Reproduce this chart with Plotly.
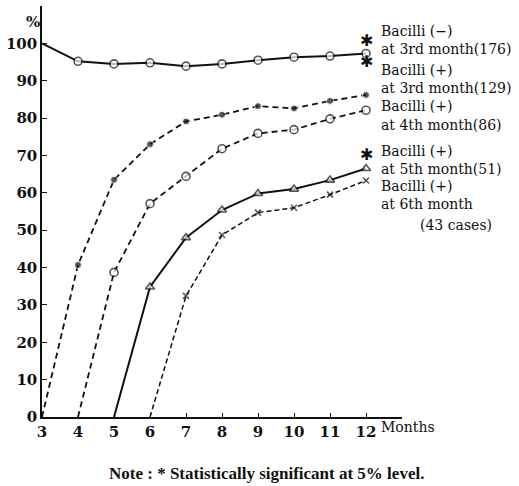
import plotly.graph_objects as go

# Months after start of treatment
months = [3, 4, 5, 6, 7, 8, 9, 10, 11, 12]

# Percentage of cases (cumulative) per group
neg_3rd = [100, 95.2, 94.5, 94.8, 93.9, 94.5, 95.5, 96.3, 96.6, 97.3]
pos_3rd = [0, 40.7, 63.5, 73.0, 79.1, 80.9, 83.2, 82.6, 84.6, 86.2]
pos_4th = [None, 0, 38.7, 57.1, 64.4, 71.8, 75.9, 76.9, 79.8, 82.1]
pos_5th = [None, None, 0, 34.8, 48.0, 55.4, 59.8, 61.0, 63.4, 66.5]
pos_6th = [None, None, None, 0, 32.4, 48.7, 54.7, 56.0, 59.5, 63.3]

x_ticks = [3, 4, 5, 6, 7, 8, 9, 10, 11, 12]
y_ticks = [0, 10, 20, 30, 40, 50, 60, 70, 80, 90, 100]

INK = "#111111"
TICK_FONT = dict(family="DejaVu Serif", size=15, color=INK, weight="bold")
LABEL_FONT = dict(family="DejaVu Serif", size=14, color=INK)

W, H = 519, 486
ML, MR, MT, MB = 31, 117, 6, 69
PW, PH = W - ML - MR, H - MT - MB


def px(x, y):
    """Pixel position on the page -> paper coordinates."""
    return (x - ML) / PW, (H - MB - y) / PH


def marker_sizes(values, size):
    # no marker on the 0 % starting point or the 100 % origin
    return [0 if (v is None or v == 0 or v == 100) else size for v in values]


fig = go.Figure()

fig.add_trace(go.Scatter(
    x=months, y=neg_3rd, mode="lines+markers",
    line=dict(color=INK, width=2),
    marker=dict(symbol="circle", size=marker_sizes(neg_3rd, 8),
                color="white", line=dict(width=1.6, color=INK)),
    cliponaxis=False, showlegend=False))

fig.add_trace(go.Scatter(
    x=months, y=pos_3rd, mode="lines+markers",
    line=dict(color=INK, width=1.8, dash="6px,4px"),
    marker=dict(symbol="circle", size=marker_sizes(pos_3rd, 7), color=INK),
    cliponaxis=False, showlegend=False))

fig.add_trace(go.Scatter(
    x=months, y=pos_4th, mode="lines+markers",
    line=dict(color=INK, width=1.8, dash="6px,4px"),
    marker=dict(symbol="circle", size=marker_sizes(pos_4th, 8),
                color="white", line=dict(width=1.6, color=INK)),
    cliponaxis=False, showlegend=False))

fig.add_trace(go.Scatter(
    x=months, y=pos_5th, mode="lines+markers",
    line=dict(color=INK, width=2),
    marker=dict(symbol="triangle-up", size=marker_sizes(pos_5th, 8),
                color="white", line=dict(width=1.6, color=INK)),
    cliponaxis=False, showlegend=False))

fig.add_trace(go.Scatter(
    x=months, y=pos_6th, mode="lines+markers",
    line=dict(color=INK, width=1.5, dash="5px,3px"),
    marker=dict(symbol="x-thin-open", size=marker_sizes(pos_6th, 6),
                color=INK, line=dict(width=1.6, color=INK)),
    cliponaxis=False, showlegend=False))


def note(text, x, y, font, xanchor="left", yanchor="middle"):
    xp, yp = px(x, y)
    return dict(text=text, x=xp, y=yp, xref="paper", yref="paper",
                xanchor=xanchor, yanchor=yanchor, showarrow=False,
                align="left", font=font)


annotations = [
    # group labels at the right-hand end of the curves
    note("Bacilli (−)<br>at 3rd month(176)", 378, 40.5, LABEL_FONT),
    note("Bacilli (+)<br>at 3rd month(129)<br>Bacilli (+)<br>at 4th month(86)",
         378, 97.5, LABEL_FONT),
    note("Bacilli (+)<br>at 5th month(51)", 378, 160, LABEL_FONT),
    note("Bacilli (+)<br>at 6th month", 378, 195, LABEL_FONT),
    note("(43 cases)", 418, 225, LABEL_FONT),
    # axis captions
    note("%", 22, 22, dict(family="DejaVu Serif", size=15, color=INK, weight="bold"),
         xanchor="center"),
    note("Months", 378, 427, LABEL_FONT),
    note("Note : * Statistically significant at 5% level.", 262, 473,
         dict(family="Liberation Serif", size=17, color=INK, weight="bold"),
         xanchor="center"),
]

# significance marks
for y in (40, 62, 154):
    annotations.append(note("✱", 365, y,
                            dict(family="DejaVu Sans", size=16, color=INK),
                            xanchor="center"))

fig.update_layout(
    width=W, height=H,
    margin=dict(l=ML, r=MR, t=MT, b=MB),
    paper_bgcolor="white", plot_bgcolor="white",
    annotations=annotations,
    xaxis=dict(range=[3, 13], tickvals=x_ticks, ticktext=[str(v) for v in x_ticks],
               showgrid=False, zeroline=False, showline=True, linecolor=INK,
               linewidth=1.5, ticks="inside", ticklen=4, tickcolor=INK,
               tickfont=TICK_FONT),
    yaxis=dict(range=[0, 110], tickvals=y_ticks, ticktext=[str(v) for v in y_ticks],
               showgrid=False, zeroline=False, showline=True, linecolor=INK,
               linewidth=1.5, ticks="inside", ticklen=5, tickcolor=INK,
               tickfont=TICK_FONT),
)

fig.write_html("out.html")
